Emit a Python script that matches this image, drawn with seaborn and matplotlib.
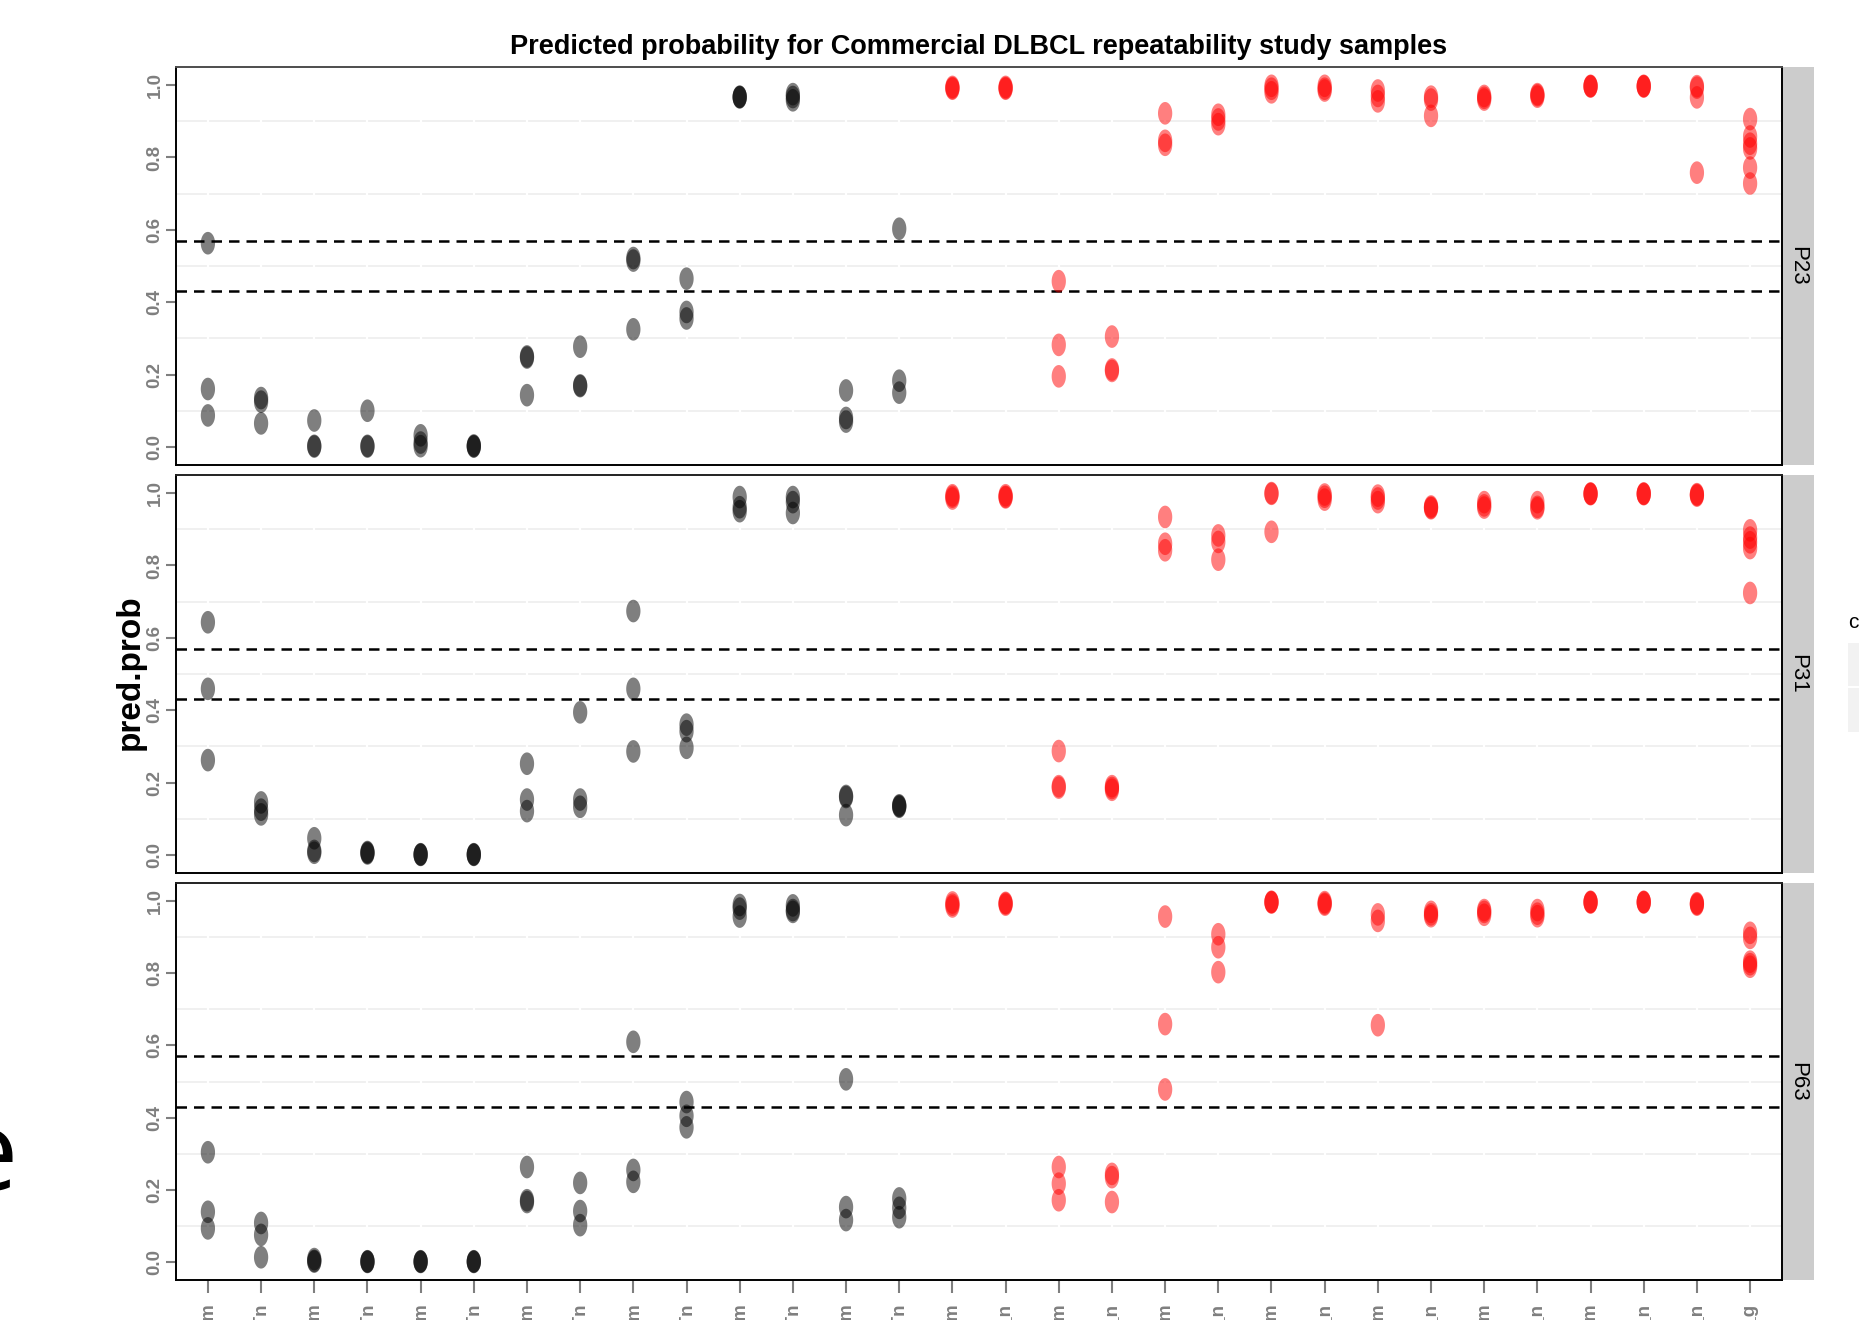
import numpy as np
import pandas as pd
import matplotlib
matplotlib.use("Agg")
import matplotlib.pyplot as plt
from matplotlib.path import Path
from matplotlib.patches import Rectangle
import seaborn as sns

# ---------------- data ----------------
samples = [
    "G01_Tm", "G01_Tn", "G02_Tm", "G02_Tn", "G03_Tm", "G03_Tn", "G04_Tm",
    "G04_Tn", "G05_Tm", "G05_Tn", "G06_Tm", "G06_Tn", "G07_Tm", "G07_Tn",
    "A01_um", "A01_n", "A02_um", "A02_n", "A03_um", "A03_n", "A04_um",
    "A04_n", "A05_um", "A05_n", "A06_um", "A06_n", "A07_um", "A07_n",
    "A08_n", "A08_g",
]
sample_class = ["GCB"] * 14 + ["ABC"] * 16
panels = ["P23", "P31", "P63"]

p23_values = [
    [0.563, 0.160, 0.087], [0.135, 0.125, 0.065], [0.073, 0.003, 0.001],
    [0.100, 0.003, 0.001], [0.032, 0.012, 0.002], [0.004, 0.002, 0.001],
    [0.250, 0.247, 0.143], [0.277, 0.170, 0.168], [0.522, 0.515, 0.325],
    [0.465, 0.373, 0.355], [0.968, 0.967, 0.966], [0.975, 0.967, 0.958],
    [0.156, 0.080, 0.070], [0.603, 0.183, 0.150], [0.995, 0.992, 0.990],
    [0.995, 0.992, 0.990], [0.458, 0.282, 0.195], [0.305, 0.214, 0.210],
    [0.922, 0.846, 0.835], [0.918, 0.905, 0.892], [0.998, 0.990, 0.980],
    [0.998, 0.990, 0.985], [0.985, 0.970, 0.955], [0.968, 0.960, 0.915],
    [0.970, 0.965, 0.960], [0.975, 0.972, 0.968], [0.998, 0.997, 0.996],
    [0.998, 0.997, 0.996], [0.997, 0.993, 0.966, 0.758],
    [0.906, 0.858, 0.838, 0.825, 0.772, 0.728],
]
p31_values = [
    [0.643, 0.459, 0.262], [0.145, 0.125, 0.112], [0.046, 0.011, 0.006],
    [0.008, 0.006, 0.004], [0.002, 0.001, 0.000], [0.002, 0.001, 0.000],
    [0.252, 0.153, 0.121], [0.394, 0.153, 0.133], [0.674, 0.459, 0.286],
    [0.360, 0.342, 0.296], [0.989, 0.961, 0.950], [0.989, 0.975, 0.945],
    [0.163, 0.160, 0.110], [0.137, 0.135, 0.133], [0.994, 0.990, 0.985],
    [0.994, 0.990, 0.988], [0.287, 0.190, 0.186], [0.190, 0.185, 0.180],
    [0.934, 0.860, 0.842], [0.883, 0.865, 0.816], [1.000, 0.998, 0.893],
    [0.996, 0.990, 0.982], [0.993, 0.985, 0.975], [0.963, 0.960, 0.958],
    [0.975, 0.966, 0.960], [0.975, 0.962, 0.958], [0.999, 0.998, 0.997],
    [0.999, 0.998, 0.997], [0.997, 0.995, 0.993],
    [0.897, 0.877, 0.864, 0.848, 0.724],
]
p63_values = [
    [0.304, 0.139, 0.093], [0.108, 0.075, 0.013], [0.008, 0.003, 0.001],
    [0.002, 0.001, 0.000], [0.002, 0.001, 0.000], [0.002, 0.001, 0.000],
    [0.263, 0.171, 0.166], [0.219, 0.141, 0.102], [0.610, 0.255, 0.222],
    [0.443, 0.405, 0.373], [0.989, 0.979, 0.957], [0.988, 0.975, 0.970],
    [0.506, 0.152, 0.116], [0.176, 0.150, 0.124], [0.996, 0.990, 0.985],
    [0.995, 0.993, 0.990], [0.263, 0.217, 0.171], [0.244, 0.235, 0.166],
    [0.957, 0.659, 0.478], [0.908, 0.872, 0.803], [0.998, 0.997, 0.996],
    [0.997, 0.993, 0.990], [0.963, 0.945, 0.656], [0.970, 0.963, 0.958],
    [0.975, 0.970, 0.962], [0.975, 0.965, 0.958], [0.998, 0.997, 0.996],
    [0.998, 0.997, 0.996], [0.994, 0.992, 0.990],
    [0.912, 0.898, 0.832, 0.825, 0.818],
]
cutoffs = [0.43, 0.57]
y_ticks = [0.0, 0.2, 0.4, 0.6, 0.8, 1.0]
y_minor = [0.1, 0.3, 0.5, 0.7, 0.9]
class_order = ["GCB", "ABC"]
class_colors = {"GCB": "black", "ABC": "red"}
title = "Predicted probability for Commercial DLBCL repeatability study samples"

rows = []
for panel, vals in zip(panels, [p23_values, p31_values, p63_values]):
    for s, c, v in zip(samples, sample_class, vals):
        for x in v:
            rows.append({"panel": panel, "sample": s, "class": c, "pred.prob": x})
df = pd.DataFrame(rows)

# ---------------- figure ----------------
sns.set_theme(style="white")
plt.rcParams["font.family"] = ["Liberation Sans", "DejaVu Sans"]

W, H = 1859, 1320
fig = plt.figure(figsize=(W / 100, H / 100), dpi=100)
fig.patch.set_facecolor("white")

def fx(px):
    return px / W

def fy(py):
    return 1 - py / H

left, right = 176, 1782
panel_px = [(67, 465), (475, 873), (883, 1280)]
strip_w = 32 / (right - left)

theta = np.linspace(0, 2 * np.pi, 64)
ellipse = Path(np.column_stack([0.63 * np.cos(theta), np.sin(theta)]), closed=True)

grey = "#7F7F7F"
for i, (panel, (top, bot)) in enumerate(zip(panels, panel_px)):
    ax = fig.add_axes([fx(left), fy(bot), (right - left) / W, (bot - top) / H])
    sub = df[df["panel"] == panel]
    sns.stripplot(data=sub, x="sample", y="pred.prob", hue="class",
                  order=samples, hue_order=class_order, palette=class_colors,
                  jitter=False, dodge=False, alpha=0.5, size=16.3,
                  marker=ellipse, linewidth=0, legend=False, ax=ax, zorder=4)
    ax.set_xlim(-0.6, len(samples) - 0.4)
    ax.set_ylim(-0.05, 1.05)
    for c in cutoffs:
        ax.axhline(c, color="black", lw=1.8, ls=(0, (4.2, 2.8)), zorder=3)

    ax.set_yticks(y_ticks)
    ax.set_yticklabels([f"{t:.1f}" for t in y_ticks])
    ax.set_yticks(y_minor, minor=True)
    ax.set_axisbelow(True)
    ax.grid(which="minor", axis="y", color="#EFEFEF", lw=1.3)
    ax.grid(which="major", axis="y", visible=False)
    ax.grid(which="major", axis="x", color="white", lw=1.6)
    ax.xaxis.set_zorder(0.6)
    ax.yaxis.set_zorder(0.4)
    ax.tick_params(axis="y", which="minor", left=False)
    ax.tick_params(axis="y", which="major", left=True, length=7, width=1.5,
                   color=grey, labelcolor=grey, labelsize=13.5, pad=2,
                   labelrotation=90)
    for lbl in ax.get_yticklabels():
        lbl.set_fontweight("bold")
        lbl.set_va("center")
    ax.set_xlabel("")
    ax.set_ylabel("")

    for side in ["left", "right", "bottom"]:
        ax.spines[side].set_color("black")
        ax.spines[side].set_linewidth(1.4)
    ax.spines["top"].set_color("#4D4D4D" if i == 0 else "#222222")
    ax.spines["top"].set_linewidth(1.4)

    if i < len(panels) - 1:
        ax.tick_params(axis="x", bottom=False, labelbottom=False)
    else:
        ax.tick_params(axis="x", bottom=True, length=9, width=1.5, color=grey,
                       labelcolor=grey, labelsize=13.5, pad=8, labelrotation=90)
        for lbl in ax.get_xticklabels():
            lbl.set_fontweight("bold")
            lbl.set_va("top")
            lbl.set_ha("center")

    # facet strip on the right
    ax.add_patch(Rectangle((1, 0), strip_w, 1, transform=ax.transAxes,
                           facecolor="#CCCCCC", edgecolor="none", clip_on=False))
    ax.text(1 + strip_w / 2, 0.5, panel, transform=ax.transAxes, rotation=-90,
            ha="center", va="center", fontsize=16, color="black")

fig.text(fx((left + right) / 2), fy(47), title, ha="center", va="center",
         fontsize=19.5, fontweight="bold", color="black")
fig.text(fx(130), fy(672), "pred.prob", rotation=90, ha="center", va="center",
         fontsize=24, fontweight="bold", color="black")

# legend (mostly outside the visible area)
fig.text(fx(1848), fy(623), "class", ha="left", va="center", fontsize=15,
         color="black")
for k, (ktop, kbot) in enumerate([(643, 686), (688, 732)]):
    fig.patches.append(Rectangle((fx(1848), fy(kbot)), fx(60), (kbot - ktop) / H,
                                 transform=fig.transFigure, facecolor="#F2F2F2",
                                 edgecolor="none"))

# partial large letter at the left edge
fig.text(fx(18), fy(1190), "e", ha="right", va="baseline", fontsize=80,
         family=["Open Sans", "DejaVu Sans"], color="black")

fig.savefig("out.png", dpi=100)
